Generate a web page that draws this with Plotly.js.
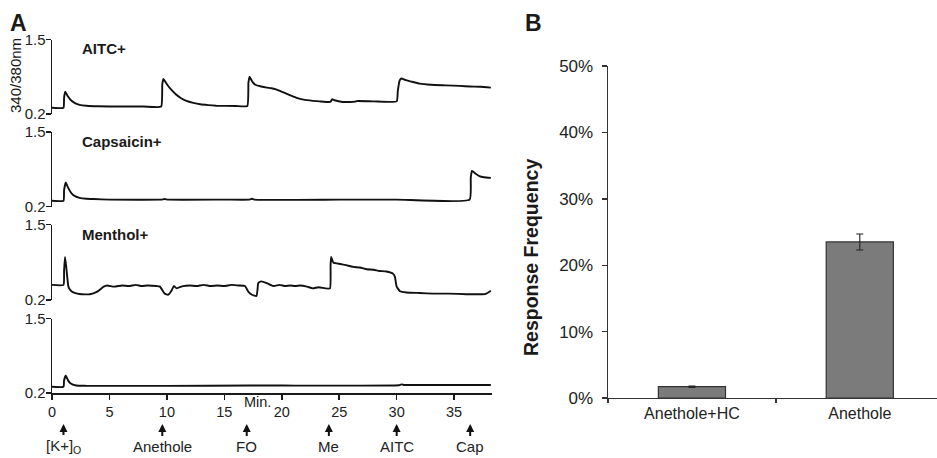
<!DOCTYPE html>
<html>
<head>
<meta charset="utf-8">
<script src="https://cdn.plot.ly/plotly-3.0.1.min.js"></script>
<style>html,body{margin:0;padding:0;background:#fff;}#chart{width:937px;height:458px;}</style>
</head>
<body>
<div id="chart"></div>
<script>
// ---- Panel A: calcium imaging traces (340/380 nm ratio vs minutes) ----
const aitcT = [0, 1.0, 1.05, 1.15, 1.35, 1.7, 2.0, 2.4, 3.0, 4.0, 6.0, 8.0, 9.5, 9.6, 9.7, 10.0, 10.4, 10.8, 11.2, 11.7, 12.3, 12.9, 13.6, 14.3, 16.0, 17.0, 17.1, 17.2, 17.45, 17.7, 18.2, 18.7, 19.1, 19.5, 20.1, 20.7, 21.3, 21.9, 22.7, 23.3, 24.2, 24.3, 24.4, 24.6, 25.3, 26.4, 26.5, 28.0, 30.0, 30.1, 30.25, 30.4, 30.8, 31.2, 32.0, 33.0, 34.3, 35.5, 36.4, 37.3, 38.2];
const aitcV = [0.31, 0.31, 0.48, 0.59, 0.52, 0.43, 0.39, 0.36, 0.345, 0.335, 0.33, 0.33, 0.33, 0.72, 0.81, 0.72, 0.62, 0.54, 0.48, 0.43, 0.395, 0.37, 0.355, 0.345, 0.34, 0.34, 0.75, 0.85, 0.76, 0.71, 0.68, 0.66, 0.65, 0.63, 0.58, 0.53, 0.48, 0.45, 0.43, 0.42, 0.41, 0.43, 0.46, 0.44, 0.41, 0.415, 0.425, 0.42, 0.42, 0.6, 0.78, 0.82, 0.79, 0.77, 0.73, 0.71, 0.70, 0.69, 0.68, 0.675, 0.66];

const capT = [0, 1.0, 1.05, 1.2, 1.4, 1.7, 2.0, 2.4, 3.0, 3.6, 5, 9.5, 9.8, 10.1, 15, 17.2, 17.4, 17.6, 25, 30, 36.35, 36.45, 36.55, 36.9, 37.2, 37.6, 38.2];
const capV = [0.30, 0.30, 0.48, 0.62, 0.53, 0.43, 0.38, 0.35, 0.335, 0.33, 0.32, 0.32, 0.33, 0.32, 0.32, 0.32, 0.335, 0.32, 0.32, 0.32, 0.32, 0.70, 0.82, 0.77, 0.73, 0.71, 0.70];

const menT = [0, 1.0, 1.05, 1.13, 1.25, 1.43, 1.6, 1.85, 2.2, 2.6, 3.3, 3.9, 4.3, 4.5, 4.8, 5.4, 6.1, 6.7, 7.3, 7.8, 8.3, 9.1, 9.4, 9.8, 10.1, 10.4, 10.6, 10.85, 11.4, 12.0, 12.6, 13.2, 13.8, 14.4, 15.0, 15.6, 16.2, 16.8, 17.1, 17.4, 17.8, 17.9, 17.95, 18.2, 18.7, 19.3, 19.8, 20.3, 20.7, 21.2, 21.6, 22.2, 22.7, 23.2, 23.8, 24.2, 24.25, 24.3, 24.5, 25.1, 25.6, 26.2, 26.8, 27.4, 28.0, 28.5, 29.1, 29.7, 29.85, 30.0, 30.3, 30.85, 32, 33.2, 34.5, 36.1, 37.0, 37.7, 38.2];
const menV = [0.46, 0.46, 0.7, 0.94, 0.75, 0.43, 0.37, 0.33, 0.31, 0.30, 0.30, 0.34, 0.40, 0.43, 0.45, 0.43, 0.45, 0.44, 0.46, 0.44, 0.45, 0.44, 0.43, 0.31, 0.29, 0.36, 0.44, 0.40, 0.44, 0.45, 0.44, 0.46, 0.44, 0.45, 0.44, 0.46, 0.45, 0.44, 0.34, 0.29, 0.27, 0.40, 0.49, 0.52, 0.49, 0.44, 0.46, 0.44, 0.45, 0.44, 0.45, 0.43, 0.40, 0.42, 0.40, 0.40, 0.80, 0.94, 0.84, 0.82, 0.80, 0.77, 0.76, 0.73, 0.72, 0.70, 0.69, 0.65, 0.60, 0.43, 0.35, 0.33, 0.32, 0.31, 0.31, 0.30, 0.30, 0.30, 0.36];

const nonT = [0, 1.0, 1.05, 1.2, 1.4, 1.6, 2.1, 3, 10, 17.3, 20, 30.2, 30.4, 30.7, 34, 38.2];
const nonV = [0.31, 0.31, 0.42, 0.50, 0.42, 0.37, 0.33, 0.325, 0.325, 0.33, 0.33, 0.335, 0.35, 0.34, 0.34, 0.34];

const rowLabels = ['AITC+', 'Capsaicin+', 'Menthol+', ''];
const yTickVals = [0.2, 1.5];
const yTickText = ['0.2', '1.5'];
const xTickVals = [0, 5, 10, 15, 20, 25, 30, 35];

const stimNames = ['[K+]<sub>O</sub>', 'Anethole', 'FO', 'Me', 'AITC', 'Cap'];
const stimTimes = [1.0, 9.6, 16.95, 24.1, 30.0, 36.4];

// ---- Panel B: response frequency ----
const groups = ['Anethole+HC', 'Anethole'];
const freq = [1.7, 23.5];
const freqErr = [0.1, 1.2];
const pctTicks = [0, 10, 20, 30, 40, 50];
const pctText = ['0%', '10%', '20%', '30%', '40%', '50%'];

const W = 937, H = 458;
const px = v => v / W;
const py = v => 1 - v / H;
const FONT = 'Arial, "Liberation Sans", sans-serif';
const INK = '#1a1a1a';

const rowsPx = [[39.5, 114], [132, 206.5], [224.5, 300], [318.5, 393]];

function rowAxis(r) {
  return {
    domain: [py(rowsPx[r][1]), py(rowsPx[r][0])],
    range: [0.2, 1.5], tickmode: 'array', tickvals: yTickVals, ticktext: yTickText,
    showline: true, linecolor: INK, linewidth: 1.5,
    ticks: 'outside', ticklen: 5, tickwidth: 1.5, tickcolor: INK,
    ticklabelstandoff: -3,
    showgrid: false, zeroline: false, anchor: 'x', fixedrange: true,
    tickfont: {family: FONT, size: 15, color: '#222'}
  };
}

const lineStyle = {color: '#111', width: 1.9, shape: 'spline', smoothing: 0.4};
const series = [[aitcT, aitcV], [capT, capV], [menT, menV], [nonT, nonV]];
const traces = series.map((s, i) => ({
  type: 'scatter', mode: 'lines', x: s[0], y: s[1],
  xaxis: 'x', yaxis: i === 0 ? 'y' : 'y' + (i + 1),
  line: lineStyle, hoverinfo: 'skip', showlegend: false
}));

traces.push({
  type: 'bar', x: groups, y: freq, xaxis: 'x2', yaxis: 'y5', width: 0.4,
  marker: {color: '#7b7b7b', line: {color: '#333', width: 1.2}},
  error_y: {type: 'data', array: freqErr, visible: true, color: '#222', thickness: 1.1, width: 3.5},
  showlegend: false
});

function note(text, x, y, size, extra) {
  return Object.assign({
    text: text, x: px(x), y: py(y), xref: 'paper', yref: 'paper',
    xanchor: 'center', yanchor: 'middle', showarrow: false,
    font: {family: FONT, size: size, color: '#1a1a1a'}
  }, extra || {});
}

const annotations = [
  note('<b>A</b>', 18, 23, 23),
  note('<b>B</b>', 533, 23, 23),
  note('340/380nm', 16, 76, 15, {textangle: -90}),
  note('Min.', 257, 402, 14.5),
  note('<b>Response Frequency</b>', 531, 258, 19.5, {textangle: -90})
];
const labelY = [49, 142, 234];
rowLabels.forEach((t, i) => {
  if (!t) return;
  annotations.push(note('<b>' + t + '</b>', 80, labelY[i], 15, {xanchor: 'left'}));
});
stimNames.forEach((t, i) => {
  annotations.push({
    text: t, x: stimTimes[i], xref: 'x', y: py(424), yref: 'paper',
    xanchor: 'center', yanchor: 'middle',
    showarrow: true, ax: 0, ay: 22, axref: 'pixel', ayref: 'pixel',
    arrowhead: 2, arrowsize: 0.8, arrowwidth: 2, arrowcolor: '#111', standoff: 0,
    font: {family: FONT, size: 15, color: '#222'}
  });
});

const layout = {
  width: W, height: H, margin: {l: 0, r: 0, t: 0, b: 0},
  paper_bgcolor: '#fff', plot_bgcolor: 'rgba(0,0,0,0)',
  showlegend: false,
  xaxis: {
    domain: [px(52), px(492)], range: [0, 38.3], anchor: 'y4',
    tickmode: 'array', tickvals: xTickVals, showline: true, linecolor: INK, linewidth: 1.5,
    ticks: 'outside', ticklen: 5, tickwidth: 1.5, tickcolor: INK,
    showgrid: false, zeroline: false, fixedrange: true,
    tickfont: {family: FONT, size: 14.5, color: '#222'}
  },
  yaxis: rowAxis(0), yaxis2: rowAxis(1), yaxis3: rowAxis(2), yaxis4: rowAxis(3),
  xaxis2: {
    domain: [px(608), 1], range: [-0.5, 1.46], anchor: 'y5', type: 'category',
    showline: true, linecolor: '#333', linewidth: 1.4,
    ticks: 'outside', tickson: 'boundaries', ticklen: 4, tickwidth: 1.4, tickcolor: '#333',
    showgrid: false, zeroline: false, fixedrange: true,
    tickfont: {family: FONT, size: 16, color: '#222'}
  },
  yaxis5: {
    domain: [py(398), py(66)], range: [0, 50], anchor: 'x2',
    tickmode: 'array', tickvals: pctTicks, ticktext: pctText,
    showline: true, linecolor: '#333', linewidth: 1.4,
    ticks: 'outside', ticklen: 5, tickwidth: 1.4, tickcolor: '#333', ticklabelstandoff: 5,
    showgrid: false, zeroline: false, fixedrange: true,
    tickfont: {family: FONT, size: 17, color: '#222'}
  },
  annotations: annotations
};

Plotly.newPlot('chart', traces, layout, {staticPlot: true, displayModeBar: false});
</script>
</body>
</html>
